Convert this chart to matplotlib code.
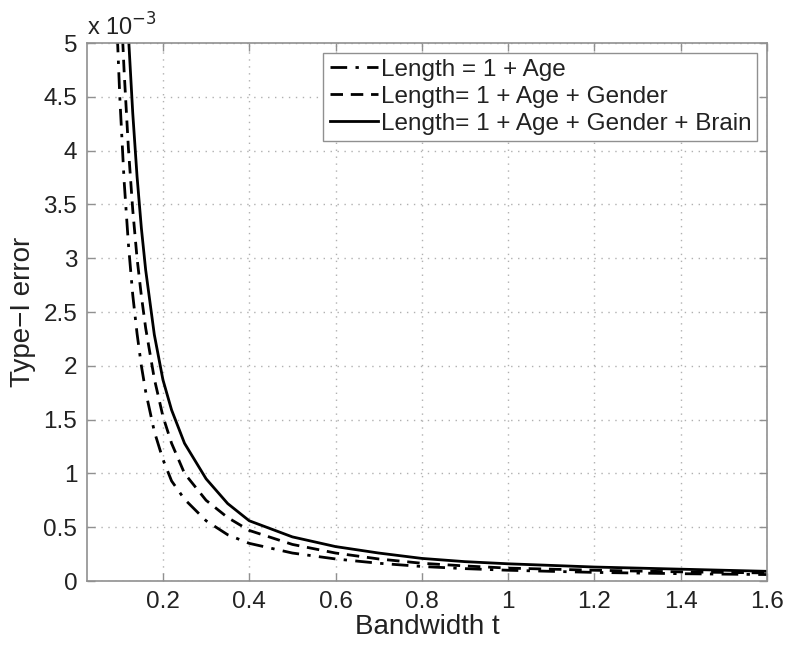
import numpy as np
import matplotlib.pyplot as plt

plt.rcParams['font.family'] = ['Liberation Sans', 'DejaVu Sans']

# Bandwidth t and Type-I error (in units of 1e-3)
t_age = [0.090, 0.095, 0.10, 0.11, 0.12, 0.13, 0.14, 0.15, 0.16, 0.18, 0.20, 0.22, 0.25,
         0.30, 0.35, 0.40, 0.50, 0.60, 0.70, 0.80, 0.90, 1.00, 1.20, 1.40, 1.60]
e_age = [5.55, 5.0, 4.5, 3.72, 3.13, 2.66, 2.30, 2.0, 1.76, 1.39, 1.13, 0.93, 0.76,
         0.56, 0.43, 0.35, 0.26, 0.205, 0.165, 0.135, 0.115, 0.10, 0.08, 0.068, 0.06]

t_gender = [0.102, 0.107, 0.11, 0.12, 0.13, 0.14, 0.15, 0.16, 0.18, 0.20, 0.22, 0.25,
            0.30, 0.35, 0.40, 0.50, 0.60, 0.70, 0.80, 0.90, 1.00, 1.20, 1.40, 1.60]
e_gender = [5.5, 5.0, 4.74, 4.02, 3.45, 3.0, 2.65, 2.35, 1.88, 1.53, 1.28, 1.0,
            0.75, 0.59, 0.47, 0.34, 0.26, 0.205, 0.165, 0.14, 0.12, 0.10, 0.085, 0.075]

t_brain = [0.115, 0.121, 0.13, 0.14, 0.15, 0.16, 0.18, 0.20, 0.22, 0.25,
           0.30, 0.35, 0.40, 0.50, 0.60, 0.70, 0.80, 0.90, 1.00, 1.20, 1.40, 1.60]
e_brain = [5.5, 5.0, 4.35, 3.76, 3.28, 2.89, 2.29, 1.87, 1.59, 1.28,
           0.95, 0.72, 0.56, 0.41, 0.32, 0.26, 0.21, 0.18, 0.16, 0.13, 0.11, 0.09]

labels = ['Length = 1 + Age',
          'Length= 1 + Age + Gender',
          'Length= 1 + Age + Gender + Brain']

xticks = [0.2, 0.4, 0.6, 0.8, 1.0, 1.2, 1.4, 1.6]
xticklabels = ['0.2', '0.4', '0.6', '0.8', '1', '1.2', '1.4', '1.6']
yticks = [0, 0.5, 1, 1.5, 2, 2.5, 3, 3.5, 4, 4.5, 5]
yticklabels = ['0', '0.5', '1', '1.5', '2', '2.5', '3', '3.5', '4', '4.5', '5']

fig = plt.figure(figsize=(7.88, 6.46), dpi=100)
ax = fig.add_axes([0.1104, 0.1006, 0.8630, 0.8328])

ax.plot(t_age, e_age, color='black', lw=2.0, linestyle=(0, (6, 3, 1.2, 3)), label=labels[0])
ax.plot(t_gender, e_gender, color='black', lw=2.0, linestyle=(0, (4.5, 2.8)), label=labels[1])
ax.plot(t_brain, e_brain, color='black', lw=2.0, linestyle='-', label=labels[2])

ax.set_xlim(0.024, 1.6)
ax.set_ylim(0, 5)
ax.set_xticks(xticks)
ax.set_xticklabels(xticklabels)
ax.set_yticks(yticks)
ax.set_yticklabels(yticklabels)

ax.grid(True, linestyle=(0, (1, 4)), color='#b0b0b0', lw=1.0)
for s in ax.spines.values():
    s.set_color('#909090')
    s.set_linewidth(1.2)
ax.tick_params(direction='in', length=6, width=1, color='#909090',
               top=True, right=True, labelsize=17.5, labelcolor='#222222', pad=7)

ax.set_xlabel('Bandwidth t', fontsize=20, color='#222222', labelpad=1)
ax.set_ylabel('Type\u2212I error', fontsize=20, color='#222222', labelpad=5)
ax.text(0.0, 1.005, 'x 10$^{-3}$', transform=ax.transAxes, ha='left', va='bottom',
        fontsize=17, color='#222222')

leg = ax.legend(loc='upper right', fontsize=17.5, fancybox=False, framealpha=1,
                edgecolor='#909090', handlelength=2.0, handletextpad=0.1,
                labelspacing=0.2, borderpad=0.25, borderaxespad=0.4)
leg.get_frame().set_linewidth(1.0)
for txt in leg.get_texts():
    txt.set_color('#222222')

fig.savefig('out.png', dpi=100)
